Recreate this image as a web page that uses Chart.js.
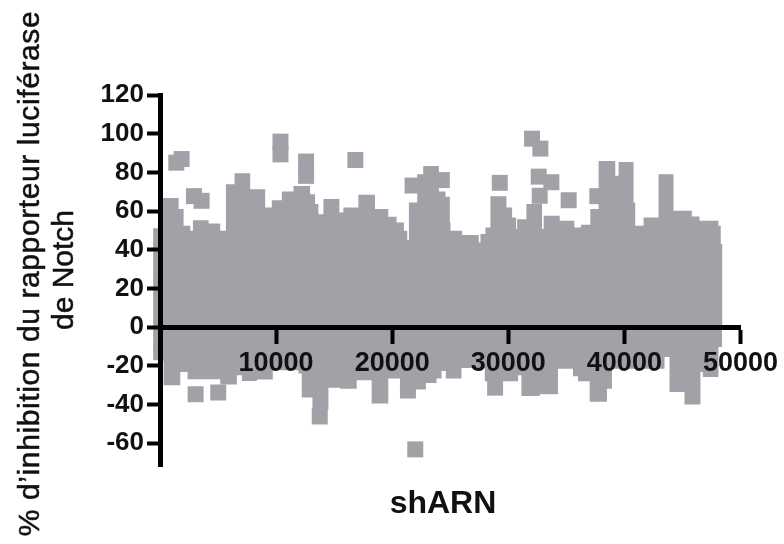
<!DOCTYPE html>
<html>
<head>
<meta charset="utf-8">
<style>
  body { margin: 0; background: #fff; }
  canvas { display: block; }
</style>
<script src="https://cdn.jsdelivr.net/npm/chart.js@4"></script>
</head>
<body>
<canvas id="chart" width="784" height="544"></canvas>
<script>
const yTitleLines = ['% d’inhibition du rapporteur luciférase', 'de Notch'];
const xTitle = 'shARN';
const xTicks = [10000, 20000, 30000, 40000, 50000];
const yTicks = [120, 100, 80, 60, 40, 20, 0, -20, -40, -60];

// top edge of the grey mass, each value holds until the next x
const upperX = [0, 226, 1604, 2033, 2608, 2837, 4185, 5188, 5676, 6421, 7769, 9059, 9632, 10492, 11496, 12929, 13359, 13646, 14076, 15452, 15796, 17086, 18520, 19666, 20379, 21010, 21297, 21440, 22157, 22673, 24021, 24594, 24967, 25024, 26027, 27461, 27604, 28034, 28464, 29841, 30328, 30672, 30758, 31560, 32908, 33052, 34428, 35689, 36263, 37065, 37782, 39215, 39502, 40792, 40936, 41653, 42943, 44233, 45810, 46469, 48103, 48304, 48450];
const upperY = [51.5, 66.7, 61, 52.4, 49.8, 55.3, 53.6, 49.8, 73.9, 79.5, 71.3, 61.9, 65.6, 70.1, 73, 68.7, 63.6, 58.4, 66.2, 59.3, 61.9, 68.4, 61, 57, 54.1, 49.8, 45, 64.4, 79, 83.3, 70.1, 67.4, 54.1, 49.8, 47.6, 43.8, 48.1, 51.5, 67.7, 61.9, 56.7, 50.7, 55.8, 63.6, 50.7, 57.6, 55, 51.5, 52.9, 61, 85.9, 78.2, 85.4, 64.4, 52.4, 56.7, 79, 60.1, 57.2, 55, 52.4, 43, 43];

// bottom edge of the grey mass
const lowerX = [0, 313, 1747, 2377, 5187, 6621, 7051, 8341, 9717, 11925, 12211, 13129, 14505, 15508, 16942, 18232, 19665, 20669, 22045, 22905, 23820, 24250, 24622, 25970, 27977, 30844, 31130, 32707, 34284, 35574, 36004, 37008, 38499, 38929, 43459, 43889, 45179, 46555, 46755, 48103, 48429];
const lowerY = [-17.2, -30, -23.2, -27, -29.7, -24.9, -27.8, -27.1, -22.3, -24, -36.4, -42.6, -31.3, -31.8, -27.5, -39.5, -26.6, -36.9, -32.3, -28.9, -26.6, -22.7, -26.6, -21.1, -28, -24.9, -35.6, -34.7, -21.5, -25.4, -28, -38.6, -31.8, -21.5, -15.4, -33.5, -40, -23.2, -25.8, -10.3, -10.3];

// first wells, their squares hang over the left of the y axis
const firstWellX = [100, 100, 100, 100, 100, 100, 100, 100, 100];
const firstWellY = [47, 40, 32, 24, 16, 8, 0, -8, -13];

// single squares standing clear of the mass
const outlierX = [1403, 1862, 2923, 3583, 10377, 10377, 12585, 12585, 16828, 21756, 24279, 29267, 32048, 32765, 32622, 33711, 32708, 35202, 37667, 3066, 5015, 13760, 21988, 28865];
const outlierY = [85, 86.9, 67.7, 65.3, 95.9, 89.3, 85.6, 78.2, 86.4, 73.2, 76, 74.6, 97.4, 92.3, 77.8, 74.9, 67.9, 65.6, 67.7, -34.7, -33.8, -46.2, -63.2, -31.3];

const grey = '#a1a1a7';
const ink = '#111111';
const fontFamily = '"Liberation Sans", Arial, sans-serif';

const toPoints = (xs, ys) => xs.map((x, i) => ({ x, y: ys[i] }));

const massDataset = (xs, ys) => ({
  type: 'line',
  data: toPoints(xs, ys),
  stepped: true,
  fill: 'origin',
  backgroundColor: grey,
  borderWidth: 0,
  pointRadius: 0,
  clip: false
});

const squareDataset = (xs, ys) => ({
  data: toPoints(xs, ys),
  pointStyle: 'rect',
  pointRadius: 11.3,
  pointBorderWidth: 0,
  backgroundColor: grey,
  clip: false
});

function drawVertical(ctx, text, x, y) {
  ctx.save();
  ctx.translate(x, y);
  ctx.rotate(-Math.PI / 2);
  ctx.fillText(text, 0, 0);
  ctx.strokeText(text, 0, 0);
  ctx.restore();
}

// axis titles sit off-centre in the reference, so they are placed by hand
const axisTitles = {
  id: 'axisTitles',
  afterDraw(chart) {
    const ctx = chart.ctx;
    ctx.save();
    ctx.fillStyle = ink;
    ctx.strokeStyle = ink;
    ctx.lineWidth = 0.5;
    ctx.textAlign = 'center';
    ctx.textBaseline = 'alphabetic';
    ctx.font = 'bold 32px ' + fontFamily;
    ctx.fillText(xTitle, 443, 513);
    ctx.font = '30px ' + fontFamily;
    ctx.letterSpacing = '0.6px';
    drawVertical(ctx, yTitleLines[0], 39, 273.5);
    ctx.letterSpacing = '0px';
    drawVertical(ctx, yTitleLines[1], 73, 270);
    ctx.restore();
  }
};

const axisLine = { display: true, color: '#000', width: 5, z: 1 };

new Chart(document.getElementById('chart').getContext('2d'), {
  type: 'scatter',
  data: {
    datasets: [
      massDataset(upperX, upperY),
      massDataset(lowerX, lowerY),
      squareDataset(firstWellX, firstWellY),
      squareDataset(outlierX, outlierY)
    ]
  },
  options: {
    responsive: false,
    animation: false,
    layout: { padding: { top: 95, right: 39, bottom: 78, left: 0 } },
    plugins: { legend: { display: false }, tooltip: { enabled: false } },
    scales: {
      x: {
        type: 'linear',
        min: 0,
        max: 50000,
        position: { y: 0 },
        afterBuildTicks: scale => { scale.ticks = xTicks.map(value => ({ value })); },
        border: axisLine,
        grid: { drawOnChartArea: false, drawTicks: true, tickLength: 14, tickWidth: 4, tickColor: '#000', z: 1 },
        ticks: { color: ink, font: { family: fontFamily, size: 27, weight: 'bold' }, padding: 6, maxRotation: 0, autoSkip: false, z: 1, callback: value => String(value) }
      },
      y: {
        type: 'linear',
        min: -71.8,
        max: 120,
        afterBuildTicks: scale => { scale.ticks = yTicks.map(value => ({ value })); },
        afterFit: scale => { scale.width = 160; },
        border: axisLine,
        grid: { drawOnChartArea: false, drawTicks: true, tickLength: 13, tickWidth: 4, tickColor: '#000', z: 1 },
        ticks: { color: ink, font: { family: fontFamily, size: 26, weight: 'bold' }, padding: 3, autoSkip: false, z: 1 }
      }
    }
  },
  plugins: [axisTitles]
});
</script>
</body>
</html>
